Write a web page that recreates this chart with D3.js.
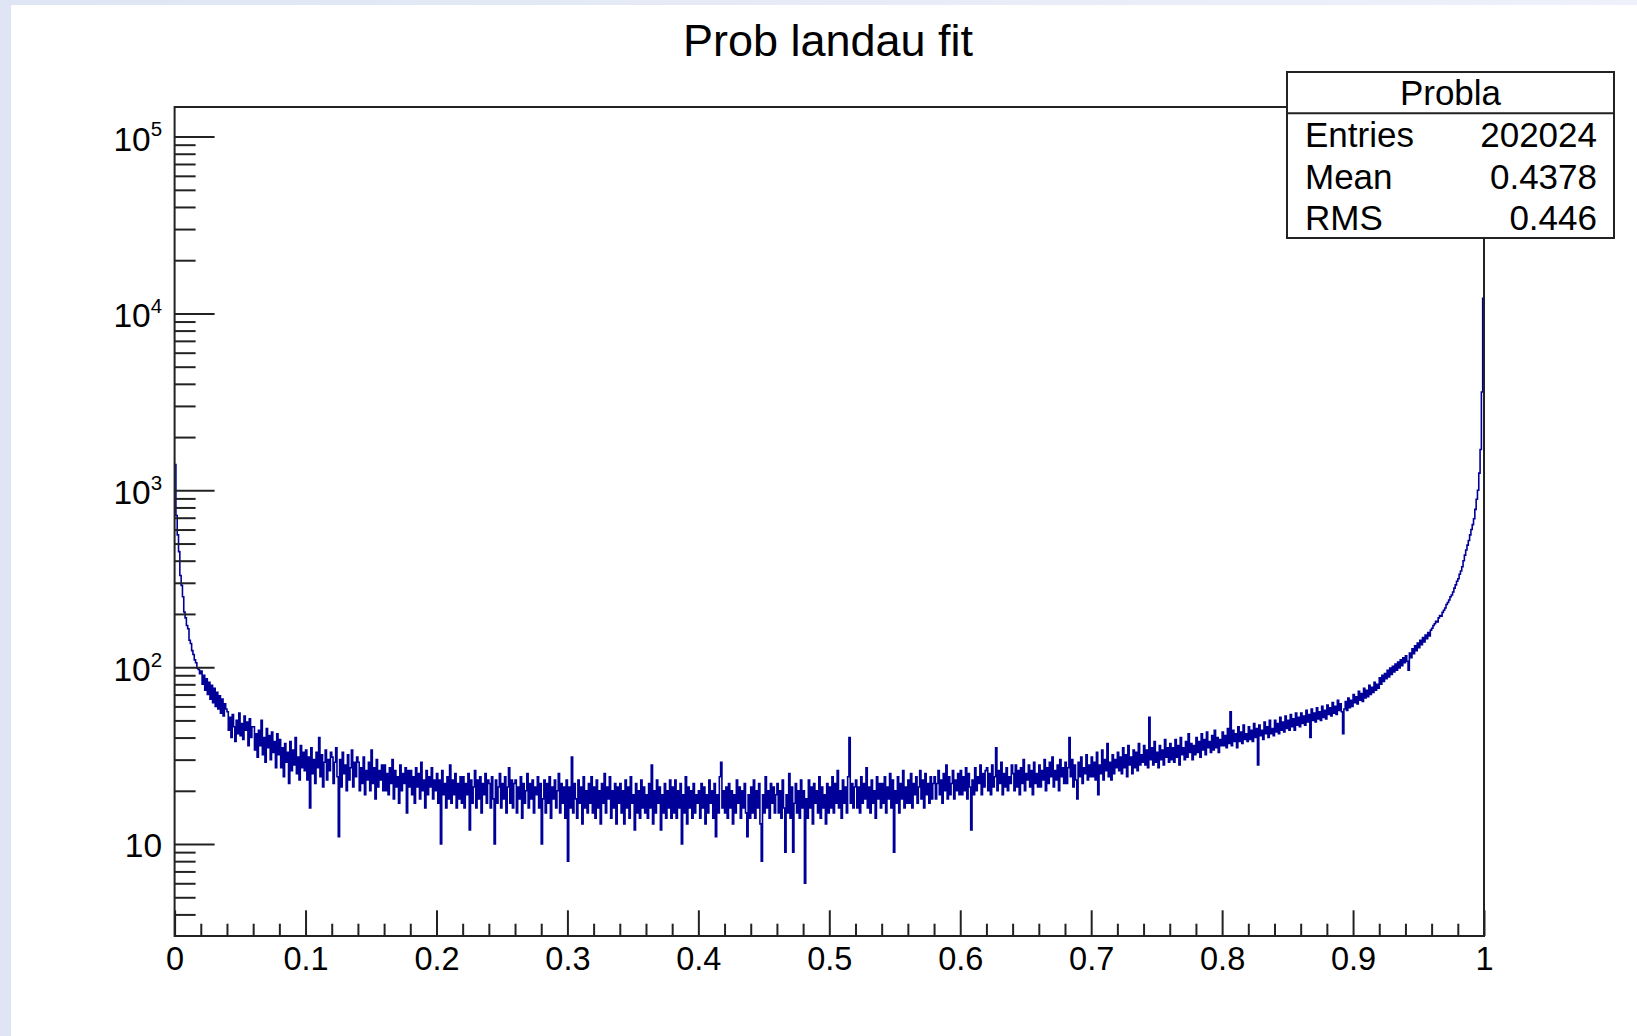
<!DOCTYPE html>
<html>
<head>
<meta charset="utf-8">
<script src="https://cdn.jsdelivr.net/npm/d3@7"></script>
<style>
  html, body { margin: 0; padding: 0; background: #ffffff; }
  svg { display: block; }
  text { font-family: "Liberation Sans", Arial, Helvetica, sans-serif; }
</style>
</head>
<body>
<script>
// ---------------- DATA ----------------
const chartTitle = "Prob landau fit";
const statsTitle = "Probla";
const statsLabels = ["Entries", "Mean", "RMS"];
const statsValues = ["202024", "0.4378", "0.446"];

const xMin = 0, xMax = 1;
const xTickValues = [0, 0.1, 0.2, 0.3, 0.4, 0.5, 0.6, 0.7, 0.8, 0.9, 1];
const xTickLabels = ["0", "0.1", "0.2", "0.3", "0.4", "0.5", "0.6", "0.7", "0.8", "0.9", "1"];
const yMin = 3.02, yMax = 147000;
const yDecadeExponents = [1, 2, 3, 4, 5];

// bin contents, 1000 equal bins over [0,1]
const binCounts = [
1400,720,560,450,330,290,250,205,190,172,165,142,136,124,118,110,106,99,97,92,
95,80,90,74,86,70,82,66,79,63,76,60,72,58,69,55,66,53,62,58,
56,44,52,40,54,46,38,50,42,55,41,48,39,53,44,49,36,51,40,46,
46,34,42,31,44,36,50,32,40,29,45,35,41,30,43,33,38,27,42,32,
39,27,35,24,37,29,33,22,38,26,34,28,40,25,31,23,36,27,33,26,
34,23,31,16,35,25,30,22,33,27,40,24,32,21,29,34,23,30,26,33,
31,22,29,35,24,11,30,21,33,25,28,20,32,23,27,34,21,29,24,31,
29,20,27,22,31,19,26,23,29,20,34,22,27,18,30,21,26,23,28,20,
28,20,25,19,27,22,30,18,26,21,24,17,28,20,25,22,27,15,26,21,
26,19,24,17,27,21,25,18,29,20,23,16,26,19,24,21,27,18,23,20,
25,17,23,10,26,19,22,16,24,18,28,17,23,19,25,16,22,18,24,17,
24,16,22,19,25,12,23,17,21,26,16,23,18,24,15,22,19,25,17,23,
22,16,24,18,10,23,17,21,25,16,22,18,24,15,21,27,17,23,16,22,
23,15,21,18,24,14,22,17,20,25,16,22,18,23,15,21,19,24,16,22,
10,18,23,15,22,17,24,14,21,18,23,16,20,25,15,22,17,21,14,23,
8,21,16,31,15,22,18,14,23,17,21,13,24,16,20,15,22,17,24,15,
21,14,23,16,20,13,22,17,25,15,21,18,24,14,20,16,22,13,21,17,
22,15,20,13,23,16,21,14,24,17,19,12,22,15,20,14,23,16,21,15,
19,14,22,16,28,13,20,15,23,17,21,12,19,15,22,14,20,16,23,14,
21,15,23,14,20,16,22,10,19,15,24,13,21,16,20,14,22,15,19,17,
20,14,22,16,21,13,19,15,23,17,20,14,22,11,19,15,24,29,16,20,
15,21,14,22,16,20,13,19,15,23,17,21,14,20,16,22,15,11,19,14,
21,15,23,14,20,16,22,13,8,19,15,24,16,20,14,22,17,21,15,19,
22,15,20,14,23,16,9,19,15,25,14,21,9,17,22,15,20,14,23,16,
20,6,18,14,23,16,21,13,22,17,20,15,24,14,21,16,19,13,22,15,
21,16,24,15,22,17,26,16,20,14,23,17,21,15,24,40,17,22,16,21,
23,16,21,15,24,17,22,18,27,16,21,15,23,17,20,14,24,18,22,16,
22,17,24,15,21,18,25,16,23,9,20,17,24,15,22,18,26,16,21,17,
23,17,25,16,22,19,24,17,21,26,18,23,16,25,19,22,17,24,18,22,
24,18,22,26,19,23,17,25,20,28,18,24,19,22,26,18,23,20,25,19,
26,19,24,20,27,18,25,21,12,23,19,27,20,24,22,28,19,25,21,26,
27,20,25,19,28,21,24,35,20,26,22,29,19,25,21,27,20,24,22,28,
25,20,28,21,26,19,27,22,30,20,25,23,28,21,26,19,29,22,25,21,
28,21,26,23,30,20,27,22,29,24,31,21,26,23,28,20,30,24,27,22,
29,22,27,40,24,30,21,28,23,18,29,24,31,22,27,25,32,23,28,24,
31,24,29,23,33,19,28,25,34,23,30,26,37,24,29,23,32,25,30,27,
33,26,31,25,35,27,32,24,36,28,31,25,34,27,33,26,37,28,32,29,
36,28,34,27,52,30,35,28,38,29,33,27,36,30,34,28,39,31,35,29,
37,30,35,29,39,31,36,28,40,32,35,30,38,31,42,33,37,30,36,32,
40,33,38,31,42,34,39,32,43,35,38,33,41,34,44,35,40,33,39,36,
43,36,41,35,45,37,56,36,44,38,42,35,46,38,43,37,47,39,42,38,
46,39,44,38,48,40,45,28,47,41,44,39,49,42,46,40,50,42,45,41,
50,43,48,42,52,44,49,43,53,45,50,44,54,46,51,44,55,47,52,46,
55,48,53,47,57,49,54,40,58,50,55,49,59,51,56,50,60,52,57,51,
61,54,59,53,63,55,60,54,65,57,62,56,42,58,64,57,67,59,65,60,
70,63,68,62,73,65,71,64,76,67,74,68,79,70,77,72,82,74,80,76,
87,80,90,83,92,86,96,88,99,91,101,94,104,96,107,99,110,102,113,106,
116,108,96,120,113,127,119,132,124,137,129,142,134,147,139,152,145,157,150,162,
166,172,176,182,180,190,196,194,204,210,216,226,232,240,250,256,266,280,292,306,
316,335,350,370,400,430,460,490,520,560,600,640,690,780,890,1000,1250,1700,3600,12200
];

// ---------------- LAYOUT ----------------
const W = 1637, H = 1036;
const plot = { left: 174.6, right: 1484, top: 107, bottom: 936 };
const frameColor = "#222";
const histColor = "#000099";

const svg = d3.select("body").append("svg").attr("width", W).attr("height", H);

// window background + canvas
const defs = svg.append("defs");
const grad = defs.append("linearGradient").attr("id", "bg").attr("x1", "0").attr("x2", "1").attr("y1", "0").attr("y2", "0");
grad.append("stop").attr("offset", "0").attr("stop-color", "#dfe5f4");
grad.append("stop").attr("offset", "1").attr("stop-color", "#eef1fa");
svg.append("rect").attr("width", W).attr("height", H).attr("fill", "url(#bg)");
svg.append("rect").attr("x", 11).attr("y", 5).attr("width", W - 11).attr("height", H - 5).attr("fill", "#ffffff");

defs.append("clipPath").attr("id", "plotclip").append("rect")
  .attr("x", plot.left).attr("y", plot.top)
  .attr("width", plot.right - plot.left).attr("height", plot.bottom - plot.top);

// scales
const x = d3.scaleLinear().domain([xMin, xMax]).range([plot.left, plot.right]);
const y = d3.scaleLog().domain([yMin, yMax]).range([plot.bottom, plot.top]);

// histogram step line
const nBins = binCounts.length;
const bw = (xMax - xMin) / nBins;
const pts = binCounts.map((c, i) => [xMin + i * bw, c]);
pts.push([xMax, binCounts[nBins - 1]]);
const line = d3.line().x(d => x(d[0])).y(d => y(d[1])).curve(d3.curveStepAfter);
svg.append("path")
  .attr("clip-path", "url(#plotclip)")
  .attr("d", line(pts))
  .attr("fill", "none")
  .attr("stroke", histColor)
  .attr("stroke-width", 1.6)
  .attr("stroke-linejoin", "miter");

// x axis ticks
const minorX = xTickValues.slice(0, -1).flatMap((t, i) =>
  [1, 2, 3, 4].map(k => t + (xTickValues[i + 1] - t) * k / 5));

const gxMinor = svg.append("g").attr("transform", `translate(0,${plot.bottom})`)
  .call(d3.axisBottom(x).tickValues(minorX).tickSize(-12.3).tickSizeOuter(0).tickFormat(""));
const gxMajor = svg.append("g").attr("transform", `translate(0,${plot.bottom})`)
  .call(d3.axisBottom(x).tickValues(xTickValues).tickSize(-25.7).tickSizeOuter(0)
    .tickPadding(11.3).tickFormat((d, i) => xTickLabels[i]));

// y axis ticks
const majorY = yDecadeExponents.map(e => Math.pow(10, e));
const minorY = [];
for (let e = 0; e <= 5; e++) {
  for (let k = 2; k <= 9; k++) {
    const v = k * Math.pow(10, e);
    if (v > yMin && v < yMax) minorY.push(v);
  }
}
const gyMinor = svg.append("g").attr("transform", `translate(${plot.left},0)`)
  .call(d3.axisLeft(y).tickValues(minorY).tickSize(-21).tickSizeOuter(0).tickFormat(""));
const gyMajor = svg.append("g").attr("transform", `translate(${plot.left},0)`)
  .call(d3.axisLeft(y).tickValues(majorY).tickSize(-40).tickSizeOuter(0).tickFormat(""));

[gxMinor, gxMajor, gyMinor, gyMajor].forEach(g => {
  g.select(".domain").remove();
  g.selectAll(".tick line").attr("stroke", frameColor).attr("stroke-width", 2);
});
gxMajor.selectAll(".tick text")
  .attr("font-family", "'Liberation Sans', Arial, sans-serif")
  .attr("font-size", 32.5).attr("fill", "#000");

// y labels with superscripts
gyMajor.selectAll(".tick").each(function (d) {
  const e = Math.round(Math.log10(d));
  const t = d3.select(this).append("text")
    .attr("x", -12.5).attr("y", e === 1 ? 12 : 13.5)
    .attr("text-anchor", "end")
    .attr("fill", "#000")
    .attr("font-family", "'Liberation Sans', Arial, sans-serif")
    .attr("font-size", 33.5);
  if (e === 1) {
    t.text("10");
  } else {
    t.append("tspan").text("10");
    t.append("tspan").attr("dy", -14.5).attr("font-size", 20.5).text(String(e));
  }
});

// frame
svg.append("rect")
  .attr("x", plot.left).attr("y", plot.top)
  .attr("width", plot.right - plot.left).attr("height", plot.bottom - plot.top)
  .attr("fill", "none").attr("stroke", frameColor).attr("stroke-width", 2);

// title
svg.append("text")
  .attr("x", 828).attr("y", 55.7)
  .attr("text-anchor", "middle")
  .attr("font-size", 45).attr("fill", "#000")
  .text(chartTitle);

// stats box
const box = { x: 1287, y: 72, w: 327, h: 166, head: 41.3 };
const statsFont = 35;
const sg = svg.append("g");
sg.append("rect").attr("x", box.x).attr("y", box.y).attr("width", box.w).attr("height", box.h)
  .attr("fill", "#fff").attr("stroke", frameColor).attr("stroke-width", 2);
sg.append("line").attr("x1", box.x).attr("x2", box.x + box.w)
  .attr("y1", box.y + box.head).attr("y2", box.y + box.head)
  .attr("stroke", frameColor).attr("stroke-width", 2);
sg.append("text").attr("x", box.x + box.w / 2).attr("y", box.y + 33.4)
  .attr("text-anchor", "middle").attr("font-size", statsFont).attr("fill", "#000").text(statsTitle);
const rowH = (box.h - box.head) / statsLabels.length;
statsLabels.forEach((lab, i) => {
  const by = box.y + box.head + rowH * i + 34;
  sg.append("text").attr("x", box.x + 18).attr("y", by)
    .attr("font-size", statsFont).attr("fill", "#000").text(lab);
  sg.append("text").attr("x", box.x + box.w - 17).attr("y", by)
    .attr("text-anchor", "end").attr("font-size", statsFont).attr("fill", "#000").text(statsValues[i]);
});
</script>
</body>
</html>
